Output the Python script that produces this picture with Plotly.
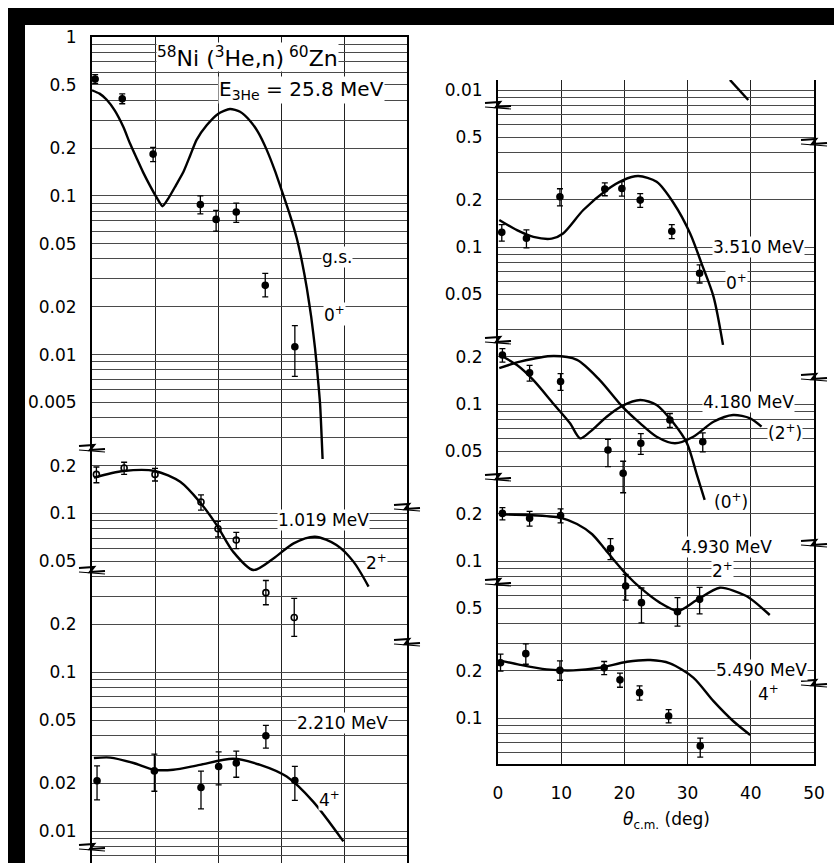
import plotly.graph_objects as go

W, H = 834, 863
FONT = "DejaVu Sans"

# ---------------- data (theta in deg c.m., cross sections in arbitrary units) ----------------
# Left panel: g.s. 0+
gs_theta = [0.5, 4.8, 9.7, 17.2, 19.7, 22.9, 27.5, 32.2]
gs_sigma = [0.544, 0.408, 0.183, 0.088, 0.071, 0.079, 0.0273, 0.0112]
gs_err_plus = [0.036, 0.030, 0.019, 0.012, 0.010, 0.011, 0.0052, 0.0040]
gs_err_minus = [0.034, 0.028, 0.019, 0.011, 0.011, 0.011, 0.0042, 0.0039]
gs_fit_theta = [0.0, 1.2, 2.3, 3.6, 5.0, 6.0, 7.1, 8.1, 9.2, 10.3, 11.2, 12.1, 13.3, 14.5, 15.6,
                16.6, 18.2, 20.0, 21.9, 23.5, 25.1, 26.4, 27.7, 29.0, 30.4, 31.5, 32.5, 33.3,
                34.1, 34.8, 35.4, 35.8, 36.2, 36.6]
gs_fit_sigma = [0.462, 0.44, 0.404, 0.345, 0.27, 0.215, 0.172, 0.141, 0.116, 0.097, 0.086, 0.096,
                0.116, 0.141, 0.18, 0.225, 0.278, 0.328, 0.352, 0.338, 0.296, 0.250, 0.196, 0.145,
                0.100, 0.074, 0.054, 0.039, 0.0262, 0.0172, 0.0110, 0.0075, 0.0049, 0.0022]

# Left panel: 1.019 MeV 2+ (open circles)
e1019_theta = [0.7, 5.1, 10.0, 17.3, 20.0, 22.9, 27.6, 32.1]
e1019_sigma = [0.176, 0.193, 0.176, 0.118, 0.080, 0.068, 0.0317, 0.0221]
e1019_err_plus = [0.020, 0.017, 0.016, 0.013, 0.009, 0.008, 0.0061, 0.0071]
e1019_err_minus = [0.020, 0.017, 0.016, 0.013, 0.009, 0.008, 0.0051, 0.0053]
e1019_fit_theta = [0.3, 5.0, 10.0, 14.0, 17.1, 19.8, 22.4, 25.6, 28.8, 32.0, 35.4, 38.8, 41.5, 43.9]
e1019_fit_sigma = [0.168, 0.185, 0.185, 0.158, 0.118, 0.0844, 0.0574, 0.044, 0.052, 0.0648, 0.0713, 0.0633, 0.0497, 0.0346]

# Left panel: 2.210 MeV 4+
e2210_theta = [0.8, 9.9, 17.3, 20.1, 22.9, 27.6, 32.2]
e2210_sigma = [0.0207, 0.0239, 0.0188, 0.0255, 0.0268, 0.0398, 0.0208]
e2210_err_plus = [0.0050, 0.0066, 0.0050, 0.0060, 0.0050, 0.0065, 0.0047]
e2210_err_minus = [0.0050, 0.0061, 0.0050, 0.0060, 0.0050, 0.0065, 0.0052]
e2210_fit_theta = [0.3, 2.9, 6.6, 9.9, 12.9, 17.1, 22.4, 26.7, 30.9, 35.1, 39.9]
e2210_fit_sigma = [0.0288, 0.0290, 0.0268, 0.0243, 0.0243, 0.0261, 0.0285, 0.0261, 0.0220, 0.0153, 0.0086]

# Right panel: fragment of curve from the panel above (top)
top_fit_theta = [36.7, 39.6]
top_fit_sigma = [0.0116, 0.00864]

# Right panel: 3.510 MeV 0+
e3510_theta = [0.6, 4.5, 9.8, 16.9, 19.6, 22.5, 27.5, 31.9]
e3510_sigma = [0.124, 0.1136, 0.209, 0.234, 0.236, 0.199, 0.126, 0.068]
e3510_err = [0.015, 0.015, 0.026, 0.022, 0.025, 0.020, 0.013, 0.009]
e3510_fit_theta = [0.2, 3.0, 5.6, 8.5, 10.3, 13.5, 17.2, 19.8, 22.2, 25.1, 27.8, 30.4, 32.2, 34.1, 35.6]
e3510_fit_sigma = [0.1486, 0.128, 0.116, 0.113, 0.122, 0.172, 0.231, 0.267, 0.283, 0.260, 0.190, 0.122, 0.0787, 0.0483, 0.0238]

# Right panel: 4.180 MeV, (2+) and (0+) fits
e4180_theta = [0.7, 5.0, 9.9, 17.4, 19.8, 22.6, 27.2, 32.4]
e4180_sigma = [0.205, 0.158, 0.139, 0.0509, 0.0362, 0.0562, 0.079, 0.0575]
e4180_err_plus = [0.020, 0.018, 0.017, 0.0087, 0.007, 0.0085, 0.008, 0.008]
e4180_err_minus = [0.020, 0.018, 0.017, 0.011, 0.009, 0.0085, 0.008, 0.008]
e4180_fit2_theta = [0.2, 3.5, 8.8, 12.5, 16.1, 19.6, 22.5, 25.1, 28.0, 30.9, 34.1, 37.2, 39.9, 41.7]
e4180_fit2_sigma = [0.169, 0.186, 0.202, 0.191, 0.142, 0.097, 0.0753, 0.0619, 0.0562, 0.0619, 0.0771, 0.0851, 0.081, 0.0717]
e4180_fit0_theta = [0.3, 3.0, 5.6, 8.8, 11.4, 13.0, 14.6, 17.2, 19.6, 22.5, 25.1, 27.8, 29.9, 31.4, 32.7]
e4180_fit0_sigma = [0.205, 0.177, 0.142, 0.100, 0.0753, 0.0604, 0.0667, 0.083, 0.097, 0.106, 0.0986, 0.0753, 0.0562, 0.0362, 0.0245]

# Right panel: 4.930 MeV 2+
e4930_theta = [0.7, 5.0, 9.9, 17.8, 20.2, 22.7, 28.4, 31.9]
e4930_sigma = [0.201, 0.187, 0.195, 0.120, 0.0693, 0.0543, 0.0475, 0.057]
e4930_err_plus = [0.018, 0.020, 0.020, 0.019, 0.013, 0.013, 0.011, 0.011]
e4930_err_minus = [0.018, 0.020, 0.020, 0.018, 0.013, 0.014, 0.009, 0.011]
e4930_fit_theta = [0.2, 5.1, 9.8, 12.5, 14.9, 16.7, 18.2, 20.4, 22.5, 25.6, 28.5, 31.4, 35.1, 39.3, 43.0]
e4930_fit_sigma = [0.198, 0.196, 0.189, 0.172, 0.148, 0.122, 0.103, 0.0814, 0.0676, 0.0543, 0.048, 0.0562, 0.0676, 0.0598, 0.0453]

# Right panel: 5.490 MeV 4+
e5490_theta = [0.4, 4.4, 9.8, 16.8, 19.3, 22.4, 27.0, 32.0]
e5490_sigma = [0.225, 0.257, 0.201, 0.209, 0.175, 0.145, 0.103, 0.0664]
e5490_err_plus = [0.030, 0.040, 0.030, 0.020, 0.018, 0.015, 0.010, 0.008]
e5490_err_minus = [0.026, 0.037, 0.027, 0.020, 0.018, 0.015, 0.010, 0.010]
e5490_fit_theta = [0.2, 3.5, 7.7, 11.9, 16.1, 20.4, 24.1, 27.2, 30.9, 34.1, 37.2, 39.9]
e5490_fit_sigma = [0.233, 0.218, 0.204, 0.201, 0.209, 0.228, 0.234, 0.223, 0.181, 0.128, 0.0957, 0.078]

# tick labels for each stacked sub-scale
gs_ticks = [1, 0.5, 0.2, 0.1, 0.05, 0.02, 0.01, 0.005]
e1019_ticks = [0.2, 0.1, 0.05]
e2210_ticks = [0.2, 0.1, 0.05, 0.02, 0.01]
top_ticks = [0.01]
e3510_ticks = [0.5, 0.2, 0.1, 0.05]
e4180_ticks = [0.2, 0.1, 0.05]
e4930_ticks = [0.2, 0.1]
e5490_ticks = [0.5, 0.2, 0.1, 0.05]
x_ticks = [0, 10, 20, 30, 40, 50]

# ---------------- layout geometry (pixels) ----------------
def fx(x):
    return x / W

def fy(y):
    return 1 - y / H

L_X0, L_X1, L_TOP, L_BOT, L_DEC = 92, 407, 37, 863, 158.8
R_X0, R_X1, R_TOP, R_BOT, R_DEC, R_REF = 498, 814, 80, 764, 157.0, 247.0

left_base = [-(L_BOT - L_TOP) / L_DEC, 0.0]
right_base = [-1 - (R_BOT - R_REF) / R_DEC, -1 + (R_REF - R_TOP) / R_DEC]


def shifted(rng, s):
    return [rng[0] + s, rng[1] + s]


def fmt(v):
    return ("%g" % v)


tickfont = dict(family=FONT, size=17, color="black")
GRIDC = "#4a4a4a"

fig = go.Figure()


def add_points(x, y, ep, em, xa, ya, open_marker=False):
    fig.add_trace(go.Scatter(
        x=x, y=y, xaxis=xa, yaxis=ya, mode="markers", showlegend=False,
        marker=dict(symbol="circle-open" if open_marker else "circle", size=6,
                    color="black", line=dict(color="black", width=1.6)),
        error_y=dict(type="data", symmetric=False, array=ep, arrayminus=em,
                     color="black", thickness=1.3, width=3),
        cliponaxis=False))


def add_fit(x, y, xa, ya, smooth=0.8):
    fig.add_trace(go.Scatter(
        x=x, y=y, xaxis=xa, yaxis=ya, mode="lines", showlegend=False,
        line=dict(color="black", width=2.4, shape="spline", smoothing=smooth)))


# left panel: y = grid/frame axis (same scale as g.s.); y2..y4 = labelled stacked scales
add_fit(gs_fit_theta, gs_fit_sigma, "x", "y", smooth=0.6)
add_points(gs_theta, gs_sigma, gs_err_plus, gs_err_minus, "x", "y2")
add_fit(e1019_fit_theta, e1019_fit_sigma, "x", "y3")
add_points(e1019_theta, e1019_sigma, e1019_err_plus, e1019_err_minus, "x", "y3", open_marker=True)
add_fit(e2210_fit_theta, e2210_fit_sigma, "x", "y4")
add_points(e2210_theta, e2210_sigma, e2210_err_plus, e2210_err_minus, "x", "y4")

# right panel: y5 = grid/frame axis (same scale as 3.510 MeV); y6..y10 = labelled scales
add_fit(top_fit_theta, top_fit_sigma, "x2", "y6")
add_fit(e3510_fit_theta, e3510_fit_sigma, "x2", "y5")
add_points(e3510_theta, e3510_sigma, e3510_err, e3510_err, "x2", "y7")
add_fit(e4180_fit2_theta, e4180_fit2_sigma, "x2", "y8")
add_fit(e4180_fit0_theta, e4180_fit0_sigma, "x2", "y8")
add_points(e4180_theta, e4180_sigma, e4180_err_plus, e4180_err_minus, "x2", "y8")
add_fit(e4930_fit_theta, e4930_fit_sigma, "x2", "y9", smooth=0.7)
add_points(e4930_theta, e4930_sigma, e4930_err_plus, e4930_err_minus, "x2", "y9")
add_fit(e5490_fit_theta, e5490_fit_sigma, "x2", "y10")
add_points(e5490_theta, e5490_sigma, e5490_err_plus, e5490_err_minus, "x2", "y10")


def label_axis(ticks, rng, anchor, overlay):
    return dict(type="log", range=rng, anchor=anchor, side="left", overlaying=overlay,
                tickmode="array", tickvals=ticks, ticktext=[fmt(t) for t in ticks],
                tickfont=tickfont, ticks="outside", ticklen=11,
                tickcolor="rgba(0,0,0,0)", showgrid=False, zeroline=False,
                showline=False, automargin=False)


def grid_axis(rng, anchor, domain):
    return dict(type="log", range=rng, anchor=anchor, domain=domain,
                side="left", dtick="D1", showticklabels=False, ticks="",
                showgrid=True, gridcolor=GRIDC, gridwidth=1, zeroline=False,
                showline=True, mirror=True, linecolor="black", linewidth=1.6,
                automargin=False)


left_dom = [0, fy(L_TOP)]
right_dom = [fy(R_BOT), fy(R_TOP)]

layout = dict(
    width=W, height=H, margin=dict(l=0, r=0, t=0, b=0),
    paper_bgcolor="white", plot_bgcolor="white",
    template="none", showlegend=False,
    font=dict(family=FONT, color="black"),
    xaxis=dict(domain=[fx(L_X0), fx(L_X1)], range=[0, 50], anchor="y", side="top",
               showline=True, linecolor="black", linewidth=1.6, mirror=False,
               tickvals=x_ticks, showticklabels=False, ticks="",
               showgrid=True, gridcolor="#222", gridwidth=1.2, zeroline=False,
               automargin=False),
    yaxis=grid_axis(left_base, "x", left_dom),
    yaxis2=label_axis(gs_ticks, left_base, "x", "y"),
    yaxis3=label_axis(e1019_ticks, shifted(left_base, 2), "x", "y"),
    yaxis4=label_axis(e2210_ticks, shifted(left_base, 3), "x", "y"),
    xaxis2=dict(domain=[fx(R_X0), fx(R_X1)], range=[0, 50], anchor="y5", side="bottom",
                showline=True, linecolor="black", linewidth=1.6,
                tickvals=x_ticks, ticktext=[str(t) for t in x_ticks],
                tickfont=dict(family=FONT, size=17, color="black"),
                ticks="outside", ticklen=13, tickcolor="rgba(0,0,0,0)",
                showgrid=True, gridcolor="#222", gridwidth=1.2, zeroline=False,
                automargin=False),
    yaxis5=grid_axis(right_base, "x2", right_dom),
    yaxis6=label_axis(top_ticks, shifted(right_base, -2), "x2", "y5"),
    yaxis7=label_axis(e3510_ticks, right_base, "x2", "y5"),
    yaxis8=label_axis(e4180_ticks, shifted(right_base, 1), "x2", "y5"),
    yaxis9=label_axis(e4930_ticks, shifted(right_base, 2), "x2", "y5"),
    yaxis10=label_axis(e5490_ticks, shifted(right_base, 3), "x2", "y5"),
)
fig.update_layout(**layout)

# ---------------- text labels ----------------
def note(text, x, y, size=17, bg=True, xanchor="center"):
    fig.add_annotation(text=text, x=fx(x), y=fy(y), xref="paper", yref="paper",
                       showarrow=False, xanchor=xanchor, yanchor="middle",
                       font=dict(family=FONT, size=size, color="black"),
                       bgcolor="white" if bg else None, borderpad=0)


note("<sup>58</sup>Ni (<sup>3</sup>He,n)<sup> 60</sup>Zn", 247, 57, size=22)
note("E<sub>3He</sub> = 25.8 MeV", 301, 90, size=20)
note("g.s.", 337, 257)
note("0<sup>+</sup>", 334, 314)
note("1.019 MeV", 323, 520)
note("2<sup>+</sup>", 376, 562)
note("2.210 MeV", 342, 723)
note("4<sup>+</sup>", 329, 799)
note("3.510 MeV", 758, 247)
note("0<sup>+</sup>", 736, 282)
note("4.180 MeV", 748, 402)
note("(2<sup>+</sup>)", 785, 432)
note("(0<sup>+</sup>)", 731, 501)
note("4.930 MeV", 726, 547)
note("2<sup>+</sup>", 722, 570)
note("5.490 MeV", 761, 670)
note("4<sup>+</sup>", 768, 693)
note("<i>θ</i><sub>c.m.</sub> (deg)", 666, 820, size=17, bg=False)

# ---------------- axis-break marks ----------------
breaks = [(L_X0, 448), (L_X0, 570), (L_X0, 847), (L_X1, 507), (L_X1, 642),
          (R_X0, 105), (R_X0, 340), (R_X0, 477), (R_X0, 582),
          (R_X1, 142), (R_X1, 377), (R_X1, 543), (R_X1, 683)]
shapes = []
for cx, cy in breaks:
    pts = [(cx - 13, cy - 2), (cx + 2, cy - 3), (cx - 2, cy + 2), (cx + 13, cy + 1)]
    path = "M " + " L ".join("%f,%f" % (fx(a), fy(b)) for a, b in pts)
    shapes.append(dict(type="path", path=path, xref="paper", yref="paper",
                       line=dict(color="black", width=2.2), layer="above"))
    pts2 = [(cx - 13, cy + 2), (cx + 13, cy + 4)]
    path2 = "M " + " L ".join("%f,%f" % (fx(a), fy(b)) for a, b in pts2)
    shapes.append(dict(type="path", path=path2, xref="paper", yref="paper",
                       line=dict(color="black", width=1.2), layer="above"))

# black scan border (top and left)
shapes.append(dict(type="rect", xref="paper", yref="paper", x0=fx(8), x1=1, y0=fy(25), y1=fy(8),
                   fillcolor="black", line=dict(width=0), layer="above"))
shapes.append(dict(type="rect", xref="paper", yref="paper", x0=fx(8), x1=fx(25), y0=0, y1=fy(8),
                   fillcolor="black", line=dict(width=0), layer="above"))
fig.update_layout(shapes=shapes)

fig.write_html("out.html")
